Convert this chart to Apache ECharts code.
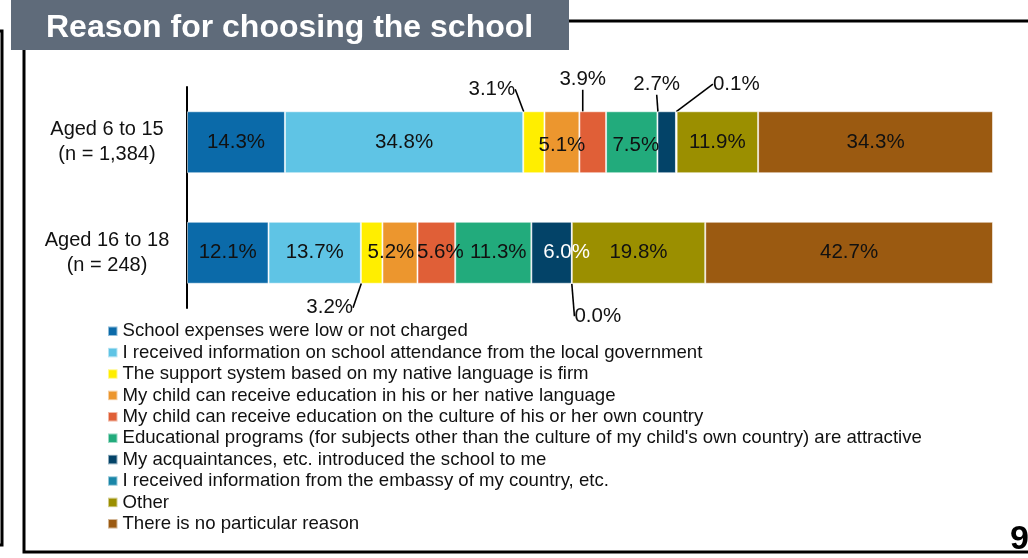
<!DOCTYPE html>
<html>
<head>
<meta charset="utf-8">
<title>Reason for choosing the school</title>
<script src="https://cdn.jsdelivr.net/npm/echarts@6/dist/echarts.min.js"></script>
<style>
  html, body { margin: 0; padding: 0; background: #fff; }
  #chart { width: 1028px; height: 558px; }
</style>
</head>
<body>
<div id="chart"></div>
<script>
// Age groups (one bar each)
const categories = ['Aged 6 to 15\n(n = 1,384)', 'Aged 16 to 18\n(n = 248)'];

// Reasons, in stacking / legend order
const reasons = [
  'School expenses were low or not charged',
  'I received information on school attendance from the local government',
  'The support system based on my native language is firm',
  'My child can receive education in his or her native language',
  'My child can receive education on the culture of his or her own country',
  "Educational programs (for subjects other than the culture of my child's own country) are attractive",
  'My acquaintances, etc. introduced the school to me',
  'I received information from the embassy of my country, etc.',
  'Other',
  'There is no particular reason'
];

// Shares (%) per reason, multiple answers allowed
const aged6to15 = [14.3, 34.8, 3.1, 5.1, 3.9, 7.5, 2.7, 0.1, 11.9, 34.3];
const aged16to18 = [12.1, 13.7, 3.2, 5.2, 5.6, 11.3, 6.0, 0.0, 19.8, 42.7];

const colors = ['#0b6aa9', '#5fc4e5', '#ffee00', '#ec962e', '#e05f37',
                '#22ab7c', '#034368', '#1a86a8', '#9b8f00', '#9b5a11'];

// Small segments get their label outside the bar, joined by a leader line.
// Offsets of the label centre from the middle of the bar's outer edge.
const outsideLabel = [
  { 2: [-42, -22], 4: [-10, -32], 6: [-10, -27], 7: [60, -27] },
  { 2: [-42, 24], 7: [26, 32] }
];
// Small nudges for labels sitting inside their segment
const insideNudge = [
  { 3: [0, 3], 5: [4, 3] },
  { 3: [-9, 0], 4: [4, 0], 5: [5, 0], 6: [15, 0] }
];
const whiteLabel = [{}, { 6: true }];

const rows = [aged6to15, aged16to18];
const FONT = '"Liberation Sans", Arial, sans-serif';

const grids = [], xAxes = [], yAxes = [], series = [];
const bandTop = 87, bandH = 110.5;

rows.forEach((vals, r) => {
  const total = vals.reduce((a, b) => a + b, 0);
  grids.push({ left: 187, right: 35, top: bandTop + r * bandH, height: bandH, containLabel: false });
  xAxes.push({ type: 'value', gridIndex: r, min: 0, max: total, show: false });
  yAxes.push({
    type: 'category', gridIndex: r, data: [categories[r]],
    axisLine: { lineStyle: { color: '#000', width: 2 } },
    axisTick: { show: false },
    axisLabel: { fontSize: 20, color: '#111', lineHeight: 25, align: 'center', margin: 80, fontFamily: FONT }
  });
  reasons.forEach((name, i) => {
    const out = outsideLabel[r][i];
    const nudge = insideNudge[r][i] || [0, 0];
    const item = {
      value: vals[i],
      label: {
        show: true,
        position: 'inside',
        offset: out ? [0, 0] : nudge,
        color: whiteLabel[r][i] ? '#fff' : '#111'
      }
    };
    if (out) {
      item.labelLine = { show: true, lineStyle: { color: '#000', width: 1.6 } };
    }
    series.push({
      type: 'bar',
      name,
      stack: 'row' + r,
      xAxisIndex: r,
      yAxisIndex: r,
      barWidth: 62,
      itemStyle: { color: colors[i], borderColor: 'rgba(255,255,255,0.55)', borderWidth: 1 },
      label: {
        show: true,
        fontSize: 20.5,
        fontFamily: FONT,
        formatter: p => p.value.toFixed(1) + '%'
      },
      labelLayout: out ? function (params) {
        const rc = params.rect;
        const edgeY = r === 0 ? rc.y : rc.y + rc.height;
        return {
          x: rc.x + rc.width / 2 + out[0],
          y: edgeY + out[1],
          align: 'center',
          verticalAlign: 'middle'
        };
      } : undefined,
      data: [item]
    });
  });
});

const chart = echarts.init(document.getElementById('chart'), null, { renderer: 'canvas' });
chart.setOption({
  animation: false,
  textStyle: { fontFamily: FONT },
  title: {
    text: 'Reason for choosing the school',
    left: 46,
    top: 12,
    padding: 0,
    textStyle: { color: '#fff', fontSize: 32, fontWeight: 'bold', lineHeight: 32, fontFamily: FONT }
  },
  legend: {
    data: reasons,
    orient: 'vertical',
    left: 107,
    top: 320.5,
    padding: 0,
    itemGap: 0,
    itemWidth: 9.5,
    itemHeight: 9.5,
    icon: 'rect',
    selectedMode: false,
    textStyle: { fontSize: 18.6, lineHeight: 21.4, color: '#111', fontFamily: FONT }
  },
  grid: grids,
  xAxis: xAxes,
  yAxis: yAxes,
  series,
  graphic: [
    // slide frame
    { type: 'polyline', z: -1, shape: { points: [[0, 31], [2, 31], [2, 545], [0, 545]] },
      style: { stroke: '#000', lineWidth: 3, fill: null } },
    { type: 'polyline', z: -1, shape: { points: [[24, 50], [24, 552], [1028, 552]] },
      style: { stroke: '#000', lineWidth: 3, fill: null } },
    { type: 'line', z: -1, shape: { x1: 569, y1: 21, x2: 1028, y2: 21 },
      style: { stroke: '#000', lineWidth: 3 } },
    // title banner
    { type: 'rect', z: -1, shape: { x: 11, y: 0, width: 558, height: 50 },
      style: { fill: '#5f6b7a' } },
    // page number
    { type: 'text', x: 1029, y: 540, z: 10,
      style: { text: '9', font: 'bold 34px ' + FONT, fill: '#000', align: 'right', verticalAlign: 'middle' } }
  ]
});
</script>
</body>
</html>
